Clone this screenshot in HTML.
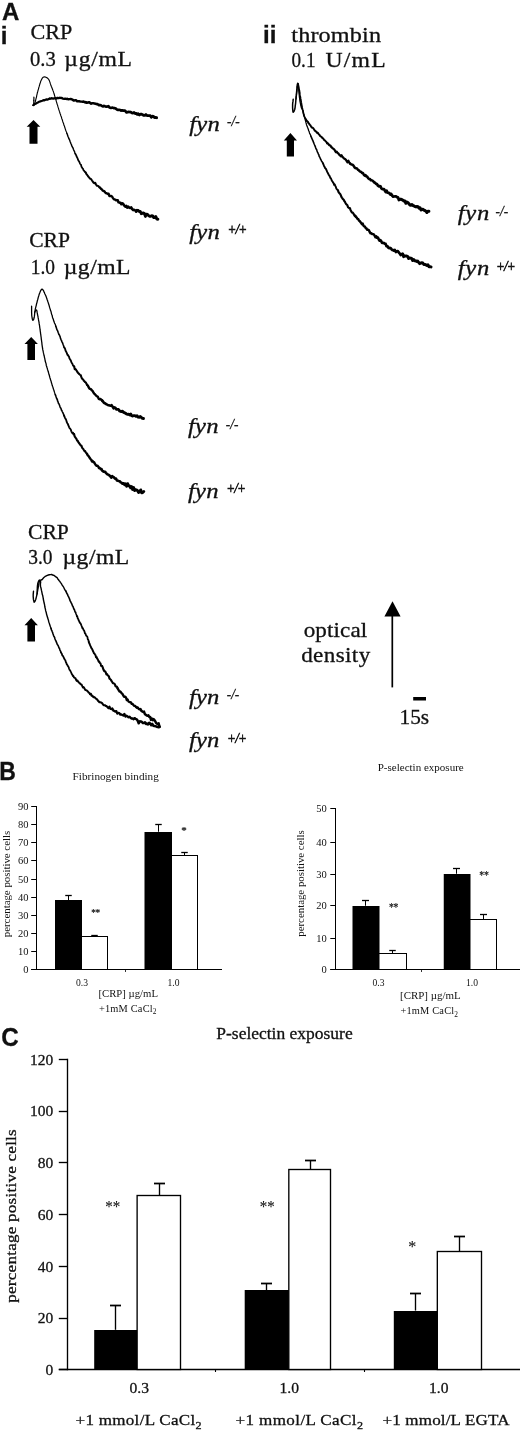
<!DOCTYPE html>
<html><head><meta charset="utf-8"><title>Figure</title>
<style>
html,body{margin:0;padding:0;background:#fff;}
svg{display:block}
text{fill:#111} .h{stroke:#111;stroke-width:0.3px}
</style></head><body>
<svg width="520" height="1431" viewBox="0 0 520 1431">
<rect width="520" height="1431" fill="#fff"/>
<text class="h" x="2" y="20" font-size="24" font-family='"Liberation Sans", sans-serif' font-weight="bold" text-anchor="start"  style="">A</text>
<text class="h" x="0.8" y="43.8" font-size="24" font-family='"Liberation Sans", sans-serif' font-weight="bold" text-anchor="start"  style="">i</text>
<g transform="translate(30.5,38.9) scale(1.005,1)"><text class="h" x="0" y="0" font-size="22" font-family='"Liberation Serif", serif' font-weight="normal" text-anchor="start" textLength="41.58" lengthAdjust="spacing"  style="">CRP</text></g>
<g transform="translate(29.9,65.6) scale(0.960,1)"><text class="h" x="0" y="0" font-size="21.5" font-family='"Liberation Serif", serif' font-weight="normal" text-anchor="start" textLength="26.88" lengthAdjust="spacing"  style="">0.3</text></g>
<g transform="translate(64.3,65.6) scale(1.100,1)"><text class="h" x="0" y="0" font-size="21.5" font-family='"Liberation Serif", serif' font-weight="normal" text-anchor="start" textLength="61.55" lengthAdjust="spacing"  style="">µg/mL</text></g>
<text class="h" x="263" y="43.3" font-size="24" font-family='"Liberation Sans", sans-serif' font-weight="bold" text-anchor="start"  style="">ii</text>
<g transform="translate(291.3,42.2) scale(1.100,1)"><text class="h" x="0" y="0" font-size="22" font-family='"Liberation Serif", serif' font-weight="normal" text-anchor="start" textLength="81.55" lengthAdjust="spacing"  style="">thrombin</text></g>
<g transform="translate(291.5,67.2) scale(0.893,1)"><text class="h" x="0" y="0" font-size="21.5" font-family='"Liberation Serif", serif' font-weight="normal" text-anchor="start" textLength="26.88" lengthAdjust="spacing"  style="">0.1</text></g>
<g transform="translate(325.5,67.2) scale(1.100,1)"><text class="h" x="0" y="0" font-size="21.5" font-family='"Liberation Serif", serif' font-weight="normal" text-anchor="start" textLength="54.64" lengthAdjust="spacing"  style="">U/mL</text></g>
<g transform="translate(29.2,247.3) scale(0.981,1)"><text class="h" x="0" y="0" font-size="22" font-family='"Liberation Serif", serif' font-weight="normal" text-anchor="start" textLength="41.58" lengthAdjust="spacing"  style="">CRP</text></g>
<g transform="translate(30.7,273.6) scale(0.904,1)"><text class="h" x="0" y="0" font-size="21.5" font-family='"Liberation Serif", serif' font-weight="normal" text-anchor="start" textLength="26.88" lengthAdjust="spacing"  style="">1.0</text></g>
<g transform="translate(63.75,273.6) scale(1.100,1)"><text class="h" x="0" y="0" font-size="21.5" font-family='"Liberation Serif", serif' font-weight="normal" text-anchor="start" textLength="60.68" lengthAdjust="spacing"  style="">µg/mL</text></g>
<g transform="translate(28,538.5) scale(0.981,1)"><text class="h" x="0" y="0" font-size="22" font-family='"Liberation Serif", serif' font-weight="normal" text-anchor="start" textLength="41.58" lengthAdjust="spacing"  style="">CRP</text></g>
<g transform="translate(28.2,564.1) scale(0.904,1)"><text class="h" x="0" y="0" font-size="21.5" font-family='"Liberation Serif", serif' font-weight="normal" text-anchor="start" textLength="26.88" lengthAdjust="spacing"  style="">3.0</text></g>
<g transform="translate(62.5,564.1) scale(1.100,1)"><text class="h" x="0" y="0" font-size="21.5" font-family='"Liberation Serif", serif' font-weight="normal" text-anchor="start" textLength="60.68" lengthAdjust="spacing"  style="">µg/mL</text></g>
<g transform="translate(303.7,637) scale(1.100,1)"><text class="h" x="0" y="0" font-size="21" font-family='"Liberation Serif", serif' font-weight="normal" text-anchor="start" textLength="57.82" lengthAdjust="spacing"  style="">optical</text></g>
<g transform="translate(301.2,662) scale(1.100,1)"><text class="h" x="0" y="0" font-size="21" font-family='"Liberation Serif", serif' font-weight="normal" text-anchor="start" textLength="62.73" lengthAdjust="spacing"  style="">density</text></g>
<g transform="translate(399.5,724.4) scale(1.015,1)"><text class="h" x="0" y="0" font-size="21" font-family='"Liberation Serif", serif' font-weight="normal" text-anchor="start" textLength="29.17" lengthAdjust="spacing"  style="">15s</text></g>
<g transform="translate(189.2,130.5) scale(1.200,1)"><text class="h" x="0" y="0" font-size="20.5" font-family='"Liberation Serif", serif' font-weight="normal" text-anchor="start" textLength="25.42" lengthAdjust="spacing"  style="font-style:italic">fyn</text></g>
<g transform="translate(227.0,126.1) scale(0.921,1)"><text class="h" x="0" y="0" font-size="14.5" font-family='"Liberation Serif", serif' font-weight="normal" text-anchor="start" textLength="13.68" lengthAdjust="spacing"  style="font-style:italic">-/-</text></g>
<g transform="translate(189.2,238.5) scale(1.200,1)"><text class="h" x="0" y="0" font-size="20.5" font-family='"Liberation Serif", serif' font-weight="normal" text-anchor="start" textLength="25.42" lengthAdjust="spacing"  style="font-style:italic">fyn</text></g>
<g transform="translate(227.39999999999998,234.1) scale(0.850,1)"><text class="h" x="0" y="0" font-size="15.5" font-family='"Liberation Serif", serif' font-weight="normal" text-anchor="start" textLength="23.29" lengthAdjust="spacing"  style="font-style:italic;stroke-width:0.55px">+/+</text></g>
<g transform="translate(457.7,220.4) scale(1.200,1)"><text class="h" x="0" y="0" font-size="20.5" font-family='"Liberation Serif", serif' font-weight="normal" text-anchor="start" textLength="26.25" lengthAdjust="spacing"  style="font-style:italic">fyn</text></g>
<g transform="translate(495.5,216.0) scale(0.921,1)"><text class="h" x="0" y="0" font-size="14.5" font-family='"Liberation Serif", serif' font-weight="normal" text-anchor="start" textLength="13.68" lengthAdjust="spacing"  style="font-style:italic">-/-</text></g>
<g transform="translate(457.7,275) scale(1.200,1)"><text class="h" x="0" y="0" font-size="20.5" font-family='"Liberation Serif", serif' font-weight="normal" text-anchor="start" textLength="26.25" lengthAdjust="spacing"  style="font-style:italic">fyn</text></g>
<g transform="translate(495.9,270.6) scale(0.850,1)"><text class="h" x="0" y="0" font-size="15.5" font-family='"Liberation Serif", serif' font-weight="normal" text-anchor="start" textLength="23.29" lengthAdjust="spacing"  style="font-style:italic;stroke-width:0.55px">+/+</text></g>
<g transform="translate(188,433) scale(1.200,1)"><text class="h" x="0" y="0" font-size="20.5" font-family='"Liberation Serif", serif' font-weight="normal" text-anchor="start" textLength="25.42" lengthAdjust="spacing"  style="font-style:italic">fyn</text></g>
<g transform="translate(225.8,428.6) scale(0.921,1)"><text class="h" x="0" y="0" font-size="14.5" font-family='"Liberation Serif", serif' font-weight="normal" text-anchor="start" textLength="13.68" lengthAdjust="spacing"  style="font-style:italic">-/-</text></g>
<g transform="translate(188,497.7) scale(1.200,1)"><text class="h" x="0" y="0" font-size="20.5" font-family='"Liberation Serif", serif' font-weight="normal" text-anchor="start" textLength="25.42" lengthAdjust="spacing"  style="font-style:italic">fyn</text></g>
<g transform="translate(226.2,493.3) scale(0.850,1)"><text class="h" x="0" y="0" font-size="15.5" font-family='"Liberation Serif", serif' font-weight="normal" text-anchor="start" textLength="23.29" lengthAdjust="spacing"  style="font-style:italic;stroke-width:0.55px">+/+</text></g>
<g transform="translate(188.9,703.8) scale(1.200,1)"><text class="h" x="0" y="0" font-size="20.5" font-family='"Liberation Serif", serif' font-weight="normal" text-anchor="start" textLength="25.42" lengthAdjust="spacing"  style="font-style:italic">fyn</text></g>
<g transform="translate(226.7,699.4) scale(0.921,1)"><text class="h" x="0" y="0" font-size="14.5" font-family='"Liberation Serif", serif' font-weight="normal" text-anchor="start" textLength="13.68" lengthAdjust="spacing"  style="font-style:italic">-/-</text></g>
<g transform="translate(188.9,747) scale(1.200,1)"><text class="h" x="0" y="0" font-size="20.5" font-family='"Liberation Serif", serif' font-weight="normal" text-anchor="start" textLength="25.42" lengthAdjust="spacing"  style="font-style:italic">fyn</text></g>
<g transform="translate(227.10000000000002,742.6) scale(0.850,1)"><text class="h" x="0" y="0" font-size="15.5" font-family='"Liberation Serif", serif' font-weight="normal" text-anchor="start" textLength="23.29" lengthAdjust="spacing"  style="font-style:italic;stroke-width:0.55px">+/+</text></g>
<polyline points="33.9,97.0 33.9,98.1 33.9,99.2 33.8,100.3" fill="none" stroke="#000" stroke-width="1.20" stroke-linejoin="round" stroke-linecap="round"/>
<polyline points="33.8,100.3 33.8,101.4 33.8,102.5 33.7,103.6 33.6,104.7 32.7,105.3" fill="none" stroke="#000" stroke-width="1.20" stroke-linejoin="round" stroke-linecap="round"/>
<polyline points="33.5,105.1 34.4,104.3 35.4,103.8 36.3,103.4 37.3,102.7 38.3,102.2 39.3,101.6 40.3,101.5 41.3,101.0 42.4,100.7 43.4,100.1 44.5,100.3 45.5,99.8 46.6,99.4 47.7,99.6 48.7,99.0 49.8,98.6" fill="none" stroke="#000" stroke-width="2.20" stroke-linejoin="round" stroke-linecap="round"/>
<polyline points="49.8,98.6 50.9,98.6 52.0,98.2 53.1,98.7 54.2,98.4 55.3,98.2 56.4,98.5 57.5,97.8 58.6,98.2 59.7,97.7 60.8,98.0 61.9,98.0 63.0,98.7 64.1,98.9 65.2,98.6 66.3,99.0 67.3,98.9" fill="none" stroke="#000" stroke-width="2.32" stroke-linejoin="round" stroke-linecap="round"/>
<polyline points="67.3,98.9 68.4,99.3 69.5,99.1 70.6,99.0 71.7,99.2 72.8,99.9 73.9,100.6 74.9,100.3 76.0,100.3 77.1,101.2 78.1,101.1 79.2,101.3 80.3,101.5 81.4,101.6 82.5,101.7 83.6,101.5 84.7,102.3 85.7,102.2" fill="none" stroke="#000" stroke-width="2.43" stroke-linejoin="round" stroke-linecap="round"/>
<polyline points="85.7,102.2 86.8,102.8 87.9,102.5 89.0,102.2 90.1,102.9 91.2,103.7 92.3,103.2 93.3,103.3 94.4,103.4 95.5,103.7 96.6,104.1 97.6,104.1 98.7,105.2 99.8,104.9 100.9,105.2 101.9,106.0 103.0,106.2" fill="none" stroke="#000" stroke-width="2.55" stroke-linejoin="round" stroke-linecap="round"/>
<polyline points="103.0,106.2 104.1,105.9 105.1,106.3 106.2,106.7 107.3,106.6 108.4,106.2 109.4,107.4 110.5,107.8 111.6,107.8 112.6,107.6 113.7,108.1 114.8,108.2 115.8,108.6 116.9,109.5 118.0,109.9 119.0,109.8 120.1,110.0 121.2,110.4" fill="none" stroke="#000" stroke-width="2.67" stroke-linejoin="round" stroke-linecap="round"/>
<polyline points="121.2,110.4 122.2,110.3 123.3,110.6 124.4,110.6 125.4,111.1 126.5,112.4 127.6,112.1 128.6,111.8 129.7,112.0 130.8,112.1 131.9,112.9 132.9,113.1 134.0,112.5 135.1,113.6 136.2,113.3 137.3,114.4 138.3,114.0" fill="none" stroke="#000" stroke-width="2.78" stroke-linejoin="round" stroke-linecap="round"/>
<polyline points="138.3,114.0 139.4,114.9 140.5,114.1 141.6,114.3 142.7,114.8 143.8,115.4 144.9,115.3 145.9,114.6 147.0,115.5 148.1,115.6 149.2,115.6 150.3,115.7 151.3,117.2 152.4,116.3 153.5,116.4 154.5,117.5 155.6,117.5 156.6,117.7" fill="none" stroke="#000" stroke-width="2.90" stroke-linejoin="round" stroke-linecap="round"/>
<polyline points="34.5,104.8 34.8,103.7 35.0,102.7 35.3,101.6 35.6,100.5 35.8,99.5 36.1,98.4 36.4,97.3 36.6,96.3 36.8,95.2 37.1,94.1 37.3,93.0 37.6,92.0 37.9,90.9 38.2,89.8 38.5,88.8 38.8,87.7 39.1,86.7 39.4,85.6 39.7,84.6 40.0,83.5 40.4,82.5 40.7,81.4 41.1,80.4 41.6,79.4 42.1,78.4 42.8,77.6 43.7,77.0 44.8,76.9 45.9,77.2 46.9,77.7 47.7,78.3 48.5,79.1 49.0,80.1 49.5,81.1 49.9,82.1 50.2,83.2 50.5,84.2 50.9,85.2 51.3,86.3 51.7,87.3 52.1,88.3 52.5,89.3 52.9,90.4 53.3,91.4 53.6,92.4 54.0,93.5 54.3,94.5 54.6,95.6 54.9,96.6 55.3,97.7 55.6,98.8 55.9,99.8 56.2,100.8 56.5,102.0 56.8,102.9 57.1,104.1 57.5,105.1 57.8,106.2 58.1,107.2 58.4,108.1 58.7,109.2 59.1,110.4 59.4,111.4 59.8,112.5 60.1,113.5 60.5,114.4 60.8,115.7 61.2,116.5 61.5,117.4 61.9,119.0 62.2,119.5 62.6,120.9 62.9,122.0 63.3,122.9 63.6,123.6 63.9,125.1 64.3,125.7 64.6,126.8 65.0,128.0 65.4,129.3 65.7,130.2 66.1,131.3 66.5,132.1 66.8,133.2" fill="none" stroke="#000" stroke-width="1.15" stroke-linejoin="round" stroke-linecap="round"/>
<polyline points="66.8,133.2 67.2,134.0 67.6,135.2 68.0,136.5 68.4,137.3 68.8,138.5 69.3,139.3 69.7,140.3 70.1,141.4 70.5,142.4 70.9,143.6 71.4,144.5 71.8,146.0 72.2,146.4 72.6,147.5 73.1,148.2 73.5,149.5 74.0,150.7 74.4,151.3 74.8,152.5 75.3,153.8" fill="none" stroke="#000" stroke-width="1.44" stroke-linejoin="round" stroke-linecap="round"/>
<polyline points="75.3,153.8 75.8,154.5 76.2,155.4 76.7,156.8 77.2,157.6 77.7,158.7 78.1,159.9 78.6,160.9 79.1,161.4 79.5,162.3 80.0,163.6 80.5,164.4 81.0,164.8 81.5,166.9 82.0,167.4 82.6,168.7 83.1,168.9 83.7,170.7 84.3,170.9 85.0,172.0 85.6,172.4" fill="none" stroke="#000" stroke-width="1.73" stroke-linejoin="round" stroke-linecap="round"/>
<polyline points="85.6,172.4 86.3,173.8 86.9,174.6 87.6,175.5 88.3,176.6 89.0,177.3 89.8,178.5 90.5,178.7 91.2,179.3 92.0,180.5 92.8,181.6 93.5,182.6 94.3,183.2 95.2,182.7 96.0,184.5 96.8,185.7 97.6,185.8 98.5,186.2 99.3,187.3 100.1,187.6" fill="none" stroke="#000" stroke-width="2.02" stroke-linejoin="round" stroke-linecap="round"/>
<polyline points="100.1,187.6 101.0,188.9 101.8,189.3 102.7,190.7 103.5,191.0 104.3,191.1 105.2,192.5 106.0,193.3 106.9,193.2 107.7,194.0 108.6,193.7 109.4,196.1 110.3,196.0 111.2,195.8 112.1,196.6 113.0,198.1 113.9,199.3 114.8,199.4 115.7,200.3 116.7,200.0 117.6,200.4" fill="none" stroke="#000" stroke-width="2.32" stroke-linejoin="round" stroke-linecap="round"/>
<polyline points="117.6,200.4 118.6,202.3 119.5,202.6 120.5,202.8 121.4,204.2 122.4,203.3 123.4,204.2 124.3,205.6 125.3,206.7 126.3,206.0 127.2,207.6 128.2,206.6 129.2,207.7 130.2,207.9 131.2,207.4 132.2,209.1 133.2,210.1 134.2,209.8 135.2,210.3 136.2,211.7 137.2,210.3" fill="none" stroke="#000" stroke-width="2.61" stroke-linejoin="round" stroke-linecap="round"/>
<polyline points="137.2,210.3 138.2,210.5 139.2,211.5 140.3,211.5 141.3,213.7 142.3,213.4 143.4,212.9 144.4,213.5 145.4,216.4 146.5,214.2 147.5,214.5 148.5,215.6 149.6,216.2 150.6,216.3 151.7,215.7 152.7,215.9 153.8,217.6 154.8,217.5 155.8,216.5 156.9,219.1 157.9,219.2" fill="none" stroke="#000" stroke-width="2.90" stroke-linejoin="round" stroke-linecap="round"/>
<polygon points="33.5,120 40.3,126.8 37.5,126.8 37.5,143.8 29.5,143.8 29.5,126.8 26.7,126.8" fill="#000"/>
<polyline points="293.2,99.2 293.1,100.3 293.0,101.4 292.8,102.4 292.7,103.4 292.6,104.7 292.6,105.6 292.6,106.9 292.6,107.8 292.7,109.1 292.8,110.2 292.9,111.4 293.2,112.2 293.9,111.5 294.3,110.6 294.7,109.5 294.9,108.5 295.1,107.5 295.2,106.4 295.3,105.4 295.5,104.1 295.6,103.3 295.7,102.2 295.8,100.9 295.9,99.6 296.0,98.7 296.1,97.6 296.2,96.2 296.3,95.4 296.4,94.3 296.5,93.1 296.6,92.2 296.7,91.1 296.8,89.9 296.9,88.9 297.0,87.6 297.2,86.5 297.3,85.6 297.4,84.5 297.7,83.3 298.2,83.6 298.4,85.1 298.6,85.8 298.8,87.2 299.0,88.6 299.1,89.3 299.3,90.2" fill="none" stroke="#000" stroke-width="1.50" stroke-linejoin="round" stroke-linecap="round"/>
<polyline points="299.3,90.2 299.5,91.3 299.6,92.8 299.8,93.7 299.9,94.9 300.1,96.0 300.3,96.9 300.5,98.0 300.6,98.9 300.8,99.6 301.0,101.0 301.2,102.4 301.4,103.4 301.6,104.6 301.8,105.6 302.0,106.7 302.2,108.0 302.4,108.7 302.7,109.9 302.9,110.6 303.2,112.3 303.4,113.2 303.7,114.3 304.0,115.7 304.4,116.6 304.8,117.3 305.3,118.5 305.8,118.9 306.4,120.3" fill="none" stroke="#000" stroke-width="1.75" stroke-linejoin="round" stroke-linecap="round"/>
<polyline points="306.4,120.3 307.0,121.1 307.7,121.5 308.4,123.2 309.0,123.5 309.7,124.8 310.4,125.3 311.1,126.6 311.9,127.5 312.6,127.7 313.3,128.3 314.1,129.5 314.8,130.6 315.6,131.1 316.3,131.8 317.1,132.9 317.8,132.7 318.6,134.1 319.4,134.7 320.1,136.0 320.9,136.5 321.7,137.1 322.5,138.2 323.2,138.5 324.0,139.8 324.8,140.3 325.6,141.2 326.4,141.9 327.2,143.2" fill="none" stroke="#000" stroke-width="2.00" stroke-linejoin="round" stroke-linecap="round"/>
<polyline points="327.2,143.2 328.0,143.6 328.8,144.6 329.6,145.3 330.4,145.6 331.2,146.9 332.0,147.6 332.8,148.3 333.5,148.8 334.3,149.5 335.1,150.8 335.9,152.1 336.7,151.7 337.5,153.0 338.3,153.3 339.1,154.6 340.0,155.2 340.8,156.2 341.6,155.3 342.4,156.9 343.2,157.5 344.1,158.6 344.9,159.0 345.8,159.7 346.6,161.0 347.5,162.3 348.4,160.8 349.2,162.6 350.1,163.6" fill="none" stroke="#000" stroke-width="2.25" stroke-linejoin="round" stroke-linecap="round"/>
<polyline points="350.1,163.6 350.9,164.1 351.8,164.6 352.7,164.8 353.5,165.7 354.4,167.2 355.3,168.0 356.1,168.3 357.0,168.5 357.8,169.6 358.7,170.2 359.6,171.2 360.4,171.7 361.3,172.0 362.2,173.1 363.0,173.1 363.9,174.8 364.7,175.7 365.6,175.1 366.5,176.6 367.3,176.6 368.2,178.3 369.1,178.9 370.0,179.0 370.8,180.3 371.7,180.2 372.6,180.8 373.4,181.5 374.3,182.4" fill="none" stroke="#000" stroke-width="2.50" stroke-linejoin="round" stroke-linecap="round"/>
<polyline points="374.3,182.4 375.2,182.9 376.1,183.9 377.0,184.1 377.8,185.5 378.7,186.3 379.6,186.1 380.5,186.3 381.3,188.2 382.2,189.1 383.1,189.0 384.0,189.0 384.8,190.6 385.7,192.0 386.6,190.6 387.5,192.7 388.4,192.8 389.3,193.1 390.3,194.5 391.2,194.0 392.1,195.5 393.1,196.7 394.1,196.5 395.0,196.4 396.0,196.3 397.0,197.1 397.9,197.3 398.9,200.0 399.9,199.3" fill="none" stroke="#000" stroke-width="2.75" stroke-linejoin="round" stroke-linecap="round"/>
<polyline points="399.9,199.3 400.9,199.3 401.9,199.6 402.9,200.2 403.9,201.1 404.9,200.9 405.9,203.3 406.9,202.1 407.9,202.6 408.9,203.7 409.9,205.0 411.0,205.3 412.0,204.5 413.0,205.5 414.0,205.9 415.0,206.6 416.0,206.9 417.0,206.5 418.0,206.7 419.0,208.2 420.0,207.7 421.0,210.0 422.0,209.5 423.0,209.2 423.9,210.1 424.9,210.5 425.9,211.2 426.9,212.5 427.9,211.2 428.9,211.3" fill="none" stroke="#000" stroke-width="3.00" stroke-linejoin="round" stroke-linecap="round"/>
<polyline points="296.0,99.0 296.1,97.9 296.2,96.8 296.4,95.8 296.5,94.6 296.6,93.6 296.7,92.4 296.9,91.4 297.0,90.2 297.1,89.0 297.2,88.1 297.3,87.0 297.4,85.7 297.5,84.7 297.6,83.7 298.0,83.8 298.2,84.7 298.3,85.9 298.5,86.8 298.6,88.3 298.7,89.2 298.8,90.3 298.9,91.4 299.0,92.5 299.1,93.6 299.2,94.6 299.3,95.8 299.4,96.8 299.6,98.1 299.7,98.9 299.8,100.1 300.0,101.3 300.2,102.4 300.4,103.4 300.6,104.4 300.8,105.5 301.1,106.5 301.4,107.8 302.0,108.7 302.5,109.7 302.9,110.6 303.2,111.6 303.4,112.8 303.7,114.0 304.0,114.9 304.2,115.9 304.5,117.1 304.8,118.0 305.1,119.2 305.3,120.0 305.6,121.1 305.9,122.4 306.2,123.4 306.5,124.7 306.8,125.4 307.2,126.5 307.5,127.3 307.9,128.2 308.3,129.3 308.7,130.7 309.1,131.4 309.5,132.9 309.9,133.9 310.4,134.6 310.8,136.0" fill="none" stroke="#000" stroke-width="1.30" stroke-linejoin="round" stroke-linecap="round"/>
<polyline points="310.8,136.0 311.2,136.8 311.6,138.0 312.0,138.7 312.5,140.0 312.9,140.6 313.3,141.9 313.7,142.7 314.1,143.8 314.6,145.0 315.0,145.9 315.4,146.9 315.8,148.1 316.2,149.1 316.6,149.6 317.1,151.1 317.5,152.1 317.9,152.8 318.4,154.1 318.8,154.7 319.2,156.4 319.7,157.0 320.1,158.0 320.6,159.3 321.1,160.0 321.6,161.2 322.1,161.7 322.6,162.8 323.1,163.5" fill="none" stroke="#000" stroke-width="1.58" stroke-linejoin="round" stroke-linecap="round"/>
<polyline points="323.1,163.5 323.6,164.8 324.1,166.2 324.6,166.9 325.1,168.1 325.7,168.5 326.2,169.5 326.7,170.6 327.2,171.9 327.7,172.8 328.2,173.7 328.7,174.8 329.3,175.5 329.8,176.5 330.3,177.9 330.9,178.3 331.4,179.5 331.9,180.9 332.5,181.4 333.0,182.5 333.6,183.1 334.1,184.9 334.7,184.4 335.2,185.7 335.8,186.7 336.3,188.6 336.8,189.1 337.4,189.8 338.0,190.4" fill="none" stroke="#000" stroke-width="1.87" stroke-linejoin="round" stroke-linecap="round"/>
<polyline points="338.0,190.4 338.5,192.0 339.1,192.8 339.6,193.5 340.2,194.1 340.8,195.2 341.3,196.6 341.9,197.6 342.5,198.5 343.1,199.3 343.7,199.6 344.3,201.2 344.9,201.7 345.5,203.0 346.1,204.1 346.8,204.6 347.4,205.3 348.0,207.1 348.7,207.7 349.3,208.2 349.9,208.1 350.6,210.2 351.3,211.4 351.9,212.5 352.6,212.5 353.3,213.4 353.9,214.4 354.6,215.8 355.3,215.8" fill="none" stroke="#000" stroke-width="2.15" stroke-linejoin="round" stroke-linecap="round"/>
<polyline points="355.3,215.8 356.0,217.1 356.7,217.6 357.5,218.9 358.2,218.9 358.9,220.6 359.7,221.0 360.4,222.0 361.2,223.1 361.9,224.2 362.7,223.6 363.5,225.7 364.2,226.3 365.0,226.7 365.8,228.3 366.6,228.5 367.3,229.8 368.1,229.6 368.9,230.2 369.7,232.0 370.5,233.3 371.3,233.2 372.2,234.1 373.0,234.1 373.8,234.4 374.6,235.7 375.5,237.3 376.3,236.3 377.1,237.7" fill="none" stroke="#000" stroke-width="2.43" stroke-linejoin="round" stroke-linecap="round"/>
<polyline points="377.1,237.7 378.0,237.7 378.8,239.5 379.6,240.6 380.5,240.2 381.3,241.3 382.1,243.0 383.0,242.9 383.8,243.0 384.7,243.6 385.6,243.9 386.4,246.1 387.3,246.0 388.2,247.6 389.1,248.1 390.0,247.9 391.0,248.5 391.9,249.8 392.9,250.0 393.8,250.6 394.8,250.0 395.8,252.0 396.8,251.4 397.8,251.1 398.8,252.5 399.8,253.6 400.7,255.1 401.7,254.1 402.7,254.0" fill="none" stroke="#000" stroke-width="2.72" stroke-linejoin="round" stroke-linecap="round"/>
<polyline points="402.7,254.0 403.7,256.6 404.7,255.9 405.7,256.1 406.7,256.0 407.7,256.5 408.7,258.5 409.7,257.9 410.7,258.1 411.7,258.6 412.7,260.4 413.7,259.5 414.7,260.7 415.7,260.9 416.7,261.4 417.7,261.1 418.7,262.5 419.8,263.6 420.8,262.9 421.8,262.8 422.8,263.0 423.8,264.4 424.8,264.4 425.9,264.9 426.9,265.4 427.9,264.8 429.0,266.7 430.0,266.7 431.0,266.9" fill="none" stroke="#000" stroke-width="3.00" stroke-linejoin="round" stroke-linecap="round"/>
<polygon points="290.4,133 297.0,140.5 294.0,140.5 294.0,156.6 286.79999999999995,156.6 286.79999999999995,140.5 283.79999999999995,140.5" fill="#000"/>
<polyline points="31.6,306.2 31.6,307.4 31.6,308.4 31.6,309.4 31.6,310.7 31.6,311.7 31.6,312.7 31.7,313.7 31.7,315.0 31.8,316.0 32.0,317.1 32.2,318.3 32.4,319.3 32.9,320.4 33.6,319.6 33.9,318.5 34.2,317.5 34.4,316.4 34.5,315.4 34.6,314.2 34.7,313.1 34.8,312.1 35.0,311.0 35.2,309.8 35.4,308.6 35.6,307.8 35.9,306.7 36.2,305.6 36.4,304.5 36.7,303.4 37.0,302.3 37.2,301.3 37.5,300.2 37.8,299.2 38.1,298.1 38.3,297.1 38.7,296.0 39.0,294.9 39.3,294.0 39.7,293.0 40.1,291.9 40.6,290.8 41.1,289.9 42.0,289.1 42.8,289.8 43.4,290.4 43.9,291.6 44.4,292.6 44.8,293.8 45.3,294.7 45.7,295.5 46.1,296.5 46.5,297.6 46.9,298.8 47.2,299.8 47.6,300.8 47.9,301.8 48.3,302.9 48.6,304.1 48.9,304.8 49.3,306.1 49.6,307.4 49.9,308.3 50.2,309.1 50.5,310.4 50.9,311.2 51.2,312.4 51.5,313.8 51.8,314.9 52.1,315.2 52.4,316.8 52.7,318.1 53.1,318.6 53.4,319.8 53.8,321.2 54.1,321.7 54.5,323.0 54.9,323.9 55.3,324.4 55.7,326.0" fill="none" stroke="#000" stroke-width="1.30" stroke-linejoin="round" stroke-linecap="round"/>
<polyline points="55.7,326.0 56.1,326.9 56.5,328.2 56.9,329.6 57.3,330.2 57.7,331.0 58.1,332.2 58.5,333.2 58.9,334.4 59.3,334.8 59.7,335.9 60.1,336.6 60.5,338.4 60.9,339.3 61.3,340.1 61.7,341.1 62.1,342.1 62.6,343.0 63.0,344.3 63.4,345.2 63.9,346.8 64.3,347.5" fill="none" stroke="#000" stroke-width="1.57" stroke-linejoin="round" stroke-linecap="round"/>
<polyline points="64.3,347.5 64.7,348.1 65.2,349.2 65.6,350.8 66.1,351.6 66.6,352.5 67.0,353.7 67.5,355.0 68.0,354.9 68.5,356.1 69.0,356.7 69.5,358.5 70.0,359.2 70.5,360.0 71.0,361.0 71.5,362.5 72.0,363.2 72.5,364.0 73.1,365.7 73.6,365.7 74.2,366.5" fill="none" stroke="#000" stroke-width="1.83" stroke-linejoin="round" stroke-linecap="round"/>
<polyline points="74.2,366.5 74.7,369.1 75.3,368.8 75.9,369.6 76.5,370.5 77.2,371.6 77.9,372.8 78.7,373.5 79.4,374.3 80.0,374.8 80.7,375.2 81.3,376.9 81.9,378.4 82.5,379.1 83.1,379.4 83.8,380.8 84.4,381.1 85.1,382.1 85.8,382.4 86.4,383.7 87.1,384.8" fill="none" stroke="#000" stroke-width="2.10" stroke-linejoin="round" stroke-linecap="round"/>
<polyline points="87.1,384.8 87.8,385.5 88.5,386.9 89.2,388.3 89.9,388.9 90.5,388.9 91.2,389.5 91.9,390.4 92.7,391.1 93.4,392.4 94.1,393.5 94.8,394.2 95.6,395.0 96.4,395.8 97.1,396.4 97.9,396.8 98.7,398.9 99.5,399.3 100.4,398.9 101.2,399.6 102.1,400.5" fill="none" stroke="#000" stroke-width="2.37" stroke-linejoin="round" stroke-linecap="round"/>
<polyline points="102.1,400.5 103.0,401.5 103.9,402.8 104.8,403.2 105.8,403.8 106.7,404.4 107.7,404.9 108.7,405.2 109.7,405.5 110.6,405.7 111.6,405.2 112.6,406.7 113.6,408.4 114.5,407.4 115.5,407.9 116.5,409.4 117.5,409.3 118.5,409.4 119.5,411.2 120.5,411.1 121.5,411.6" fill="none" stroke="#000" stroke-width="2.63" stroke-linejoin="round" stroke-linecap="round"/>
<polyline points="121.5,411.6 122.5,411.2 123.5,412.3 124.5,412.7 125.5,413.3 126.6,414.0 127.6,414.4 128.6,414.2 129.6,414.9 130.7,414.0 131.7,415.7 132.7,416.0 133.8,415.6 134.9,415.6 135.9,416.3 137.0,415.7 138.1,417.1 139.2,417.2 140.3,416.5 141.3,417.4 142.4,418.3 143.5,418.5" fill="none" stroke="#000" stroke-width="2.90" stroke-linejoin="round" stroke-linecap="round"/>
<polyline points="34.6,312.6 35.1,311.5 35.6,310.5 36.4,309.9 36.9,310.9 37.1,312.2 37.3,313.2 37.5,314.3 37.7,315.3 37.9,316.1 38.1,317.4 38.3,318.4 38.5,319.7 38.7,320.8 38.9,321.6 39.1,322.8 39.2,323.9 39.4,324.9 39.6,326.0 39.7,327.1 39.9,328.3 40.0,329.2 40.2,330.5 40.3,331.5 40.5,332.7 40.6,333.8 40.8,334.7 40.9,335.8 41.1,337.0 41.2,337.9 41.3,339.1 41.5,340.2 41.6,341.3 41.8,342.3 41.9,343.5 42.0,344.6 42.2,345.8 42.3,346.6 42.5,348.0 42.7,349.0 42.8,349.9 43.1,351.0 43.3,352.2 43.5,353.2 43.8,354.3 44.0,355.5 44.3,356.4 44.5,357.6 44.8,358.7 45.0,359.8 45.2,361.0 45.5,362.1 45.8,362.9 46.1,363.9 46.3,365.4 46.6,366.2 46.9,367.2 47.2,368.0 47.5,369.4 47.8,370.2 48.1,371.3 48.4,372.2 48.7,373.4 49.0,374.6 49.3,375.3 49.6,376.5 49.9,377.7 50.2,378.5 50.5,379.6 50.9,380.7 51.2,381.6 51.5,383.1 51.8,383.8 52.2,385.3 52.5,386.3 52.8,386.9 53.2,388.2 53.5,389.2 53.8,390.0 54.2,391.3 54.5,392.4 54.9,393.6 55.3,394.8" fill="none" stroke="#000" stroke-width="1.30" stroke-linejoin="round" stroke-linecap="round"/>
<polyline points="55.3,394.8 55.6,395.2 56.0,396.5 56.4,397.7 56.8,398.9 57.2,399.0 57.6,401.0 58.0,401.6 58.4,403.2 58.8,403.6 59.2,404.5 59.7,405.8 60.1,407.1 60.5,407.8 60.9,408.1 61.4,410.0 61.8,410.3 62.2,411.5 62.7,412.5 63.1,413.2 63.6,414.4 64.0,415.5" fill="none" stroke="#000" stroke-width="1.57" stroke-linejoin="round" stroke-linecap="round"/>
<polyline points="64.0,415.5 64.5,416.6 65.0,417.8 65.4,418.7 65.9,419.3 66.4,420.8 66.8,422.2 67.3,423.2 67.8,423.9 68.2,425.0 68.7,426.1 69.2,427.3 69.7,428.4 70.2,428.6 70.8,429.6 71.3,431.3 71.8,432.3 72.4,433.2 73.0,432.6 73.5,434.4 74.1,434.0" fill="none" stroke="#000" stroke-width="1.83" stroke-linejoin="round" stroke-linecap="round"/>
<polyline points="74.1,434.0 74.7,436.6 75.3,437.3 75.9,438.2 76.5,439.0 77.1,440.6 77.7,440.8 78.4,442.3 79.0,443.0 79.6,443.8 80.2,444.7 80.9,445.5 81.5,445.8 82.1,447.6 82.7,448.5 83.3,449.0 84.0,450.3 84.6,451.3 85.2,451.1 85.9,452.6 86.5,453.3 87.1,454.0" fill="none" stroke="#000" stroke-width="2.10" stroke-linejoin="round" stroke-linecap="round"/>
<polyline points="87.1,454.0 87.8,455.5 88.4,455.8 89.1,456.9 89.8,458.1 90.5,459.0 91.2,459.8 92.0,461.6 92.7,461.0 93.4,462.2 94.2,462.2 95.0,463.9 95.8,465.1 96.6,465.8 97.4,465.6 98.2,466.5 99.0,468.1 99.9,468.0 100.7,469.3 101.6,468.9 102.4,471.0 103.3,471.4" fill="none" stroke="#000" stroke-width="2.37" stroke-linejoin="round" stroke-linecap="round"/>
<polyline points="103.3,471.4 104.2,471.8 105.0,471.7 105.9,472.8 106.7,473.7 107.6,474.4 108.5,474.8 109.4,475.4 110.3,476.3 111.2,477.6 112.2,476.1 113.1,477.0 114.1,477.5 115.0,478.6 116.0,478.5 116.9,480.5 117.9,480.7 118.8,481.0 119.8,481.3 120.7,482.4 121.7,482.9 122.7,483.5" fill="none" stroke="#000" stroke-width="2.63" stroke-linejoin="round" stroke-linecap="round"/>
<polyline points="122.7,483.5 123.7,483.4 124.6,484.8 125.6,483.9 126.6,486.2 127.6,483.7 128.6,485.9 129.6,485.9 130.6,487.8 131.6,486.6 132.6,489.4 133.6,487.5 134.6,490.5 135.6,489.8 136.6,489.9 137.6,490.7 138.6,492.4 139.7,491.8 140.7,489.9 141.7,492.8 142.7,492.5 143.8,491.5" fill="none" stroke="#000" stroke-width="2.90" stroke-linejoin="round" stroke-linecap="round"/>
<polygon points="31.2,336.9 37.9,344 35.0,344 35.0,360 27.4,360 27.4,344 24.5,344" fill="#000"/>
<polyline points="33.5,591.3 33.4,592.2 33.3,593.4 33.2,594.5 33.2,595.5 33.2,596.8 33.3,597.7 33.4,598.9 33.5,599.9 33.8,601.0 34.2,602.2 35.0,601.3 35.4,600.2 35.8,599.2 36.1,598.1 36.3,597.1 36.6,596.1 36.8,595.0 37.0,593.9 37.2,592.8 37.4,591.8 37.6,590.8 37.8,589.5 38.0,588.5 38.2,587.4 38.4,586.5 38.6,585.4 38.8,584.1 39.0,583.1 39.2,581.9 39.5,580.9 40.2,580.1 41.2,580.0 42.2,579.5 43.0,578.5 43.7,577.6 44.5,577.0 45.3,576.3 46.3,575.8 47.3,575.3 48.3,575.0 49.4,574.7 50.5,574.6 51.6,574.5 52.6,575.0 53.6,575.2 54.6,575.8 55.5,576.7 56.3,577.2 57.1,577.7 57.8,579.0 58.5,579.8 59.2,580.7 59.8,581.4 60.4,582.4 61.0,583.2 61.6,584.0 62.2,585.3 62.8,585.9 63.4,586.8 63.9,587.8 64.5,589.2 65.0,590.0 65.6,590.7" fill="none" stroke="#000" stroke-width="1.40" stroke-linejoin="round" stroke-linecap="round"/>
<polyline points="65.6,590.7 66.1,591.7 66.6,592.8 67.1,593.9 67.5,594.3 68.0,595.9 68.5,596.6 68.9,597.5 69.4,598.6 69.8,599.9 70.3,601.1 70.7,601.7 71.2,602.9 71.6,603.5 72.1,604.8 72.5,605.9 72.9,606.3 73.4,607.6 73.8,609.0 74.3,609.3 74.7,610.7 75.1,612.0 75.6,612.3 76.0,613.7 76.4,614.8 76.9,616.1" fill="none" stroke="#000" stroke-width="1.58" stroke-linejoin="round" stroke-linecap="round"/>
<polyline points="76.9,616.1 77.3,616.5 77.7,618.2 78.2,618.9 78.6,620.2 79.1,621.2 79.5,622.0 80.0,623.0 80.5,623.3 81.0,624.4 81.4,625.5 81.9,626.7 82.4,628.1 82.9,628.2 83.4,629.7 83.9,630.3 84.4,631.2 84.9,633.2 85.5,633.7 86.0,635.2 86.5,636.0 87.0,636.2 87.4,636.9 87.8,639.4 88.1,639.5 88.5,640.3 88.8,642.0" fill="none" stroke="#000" stroke-width="1.77" stroke-linejoin="round" stroke-linecap="round"/>
<polyline points="88.8,642.0 89.1,642.9 89.5,643.6 89.9,644.7 90.4,645.9 90.9,646.9 91.4,648.1 91.9,648.7 92.4,649.6 92.9,651.0 93.4,651.9 93.9,653.2 94.4,653.6 95.0,654.6 95.5,655.1 96.0,657.2 96.6,656.9 97.1,658.6 97.7,659.0 98.2,660.5 98.8,661.7 99.3,661.5 99.9,663.1 100.5,663.3 101.0,665.8 101.6,665.8" fill="none" stroke="#000" stroke-width="1.95" stroke-linejoin="round" stroke-linecap="round"/>
<polyline points="101.6,665.8 102.2,666.2 102.8,667.6 103.4,669.5 103.9,670.5 104.5,671.3 105.1,671.2 105.8,672.5 106.4,674.3 107.0,674.0 107.6,675.1 108.3,675.7 108.9,676.4 109.5,678.6 110.2,679.1 110.9,679.9 111.5,680.9 112.2,682.0 112.9,683.1 113.6,683.2 114.3,683.8 114.9,684.3 115.6,686.4 116.3,686.4 116.9,686.7 117.6,688.3" fill="none" stroke="#000" stroke-width="2.13" stroke-linejoin="round" stroke-linecap="round"/>
<polyline points="117.6,688.3 118.2,689.3 118.9,690.6 119.6,691.6 120.3,691.5 121.0,692.3 121.7,693.4 122.4,693.7 123.1,695.2 123.8,696.4 124.6,696.9 125.3,696.7 126.1,697.8 126.8,700.1 127.6,699.5 128.4,701.3 129.2,702.0 130.0,702.1 130.9,702.4 131.7,703.9 132.6,703.9 133.4,705.0 134.3,705.9 135.2,706.0 136.0,707.0 136.9,707.6" fill="none" stroke="#000" stroke-width="2.32" stroke-linejoin="round" stroke-linecap="round"/>
<polyline points="136.9,707.6 137.8,707.6 138.7,708.9 139.6,709.3 140.5,709.1 141.4,710.8 142.3,711.5 143.1,711.9 144.0,711.6 144.9,714.2 145.8,714.8 146.7,715.4 147.5,715.8 148.4,715.4 149.3,717.0 150.2,717.0 151.0,719.9 151.9,718.6 152.8,720.1 153.6,719.2 154.5,720.2 155.3,721.4 156.1,723.0 157.0,723.6 157.8,724.2 158.6,723.3 159.4,726.3" fill="none" stroke="#000" stroke-width="2.50" stroke-linejoin="round" stroke-linecap="round"/>
<polyline points="37.2,593.9 37.2,593.1 37.2,592.0 37.2,590.8 37.2,589.7 37.3,588.4 37.3,587.7 37.4,586.3 37.5,585.3 37.7,584.0 37.9,583.0 38.3,581.9 38.7,581.0 39.3,580.1 40.2,580.6 40.6,581.7 40.6,582.7 40.4,583.8 40.4,584.9 40.5,586.1 40.7,587.0 41.0,588.2 41.2,589.0 41.4,590.2 41.7,591.4 41.9,592.4 42.2,593.8 42.4,594.8 42.7,595.5 42.9,596.6 43.1,597.7 43.3,599.0 43.5,600.0 43.7,601.0 43.9,601.9 44.1,603.1 44.4,603.9 44.6,605.1 44.8,606.5 45.0,607.6 45.2,608.4 45.5,609.6 45.7,610.9 46.0,611.8 46.3,612.8 46.5,614.0 46.8,615.0 47.1,616.0 47.4,617.0 47.7,618.1 48.1,619.2 48.4,620.1 48.7,621.5 49.0,622.5 49.4,623.6 49.7,624.8 50.1,625.8 50.4,626.8 50.8,627.6 51.1,628.6" fill="none" stroke="#000" stroke-width="1.40" stroke-linejoin="round" stroke-linecap="round"/>
<polyline points="51.1,628.6 51.5,630.1 51.8,630.5 52.2,631.6 52.6,632.5 53.0,633.8 53.4,634.9 53.8,636.1 54.2,636.8 54.6,637.4 55.0,639.0 55.5,640.1 55.9,640.9 56.3,641.9 56.8,643.1 57.2,644.3 57.7,644.9 58.1,645.5 58.6,646.8 59.0,647.9 59.5,648.4 59.9,650.2 60.4,650.7 60.8,652.1" fill="none" stroke="#000" stroke-width="1.58" stroke-linejoin="round" stroke-linecap="round"/>
<polyline points="60.8,652.1 61.3,653.0 61.8,653.8 62.3,655.4 62.8,655.7 63.3,656.6 63.9,657.9 64.4,659.1 64.9,659.8 65.4,660.4 65.8,662.0 66.3,662.9 66.8,664.4 67.2,664.7 67.7,665.8 68.2,666.5 68.7,667.2 69.1,668.7 69.6,670.0 70.1,670.3 70.6,671.4 71.1,672.2 71.7,674.1 72.2,674.3 72.8,675.7" fill="none" stroke="#000" stroke-width="1.77" stroke-linejoin="round" stroke-linecap="round"/>
<polyline points="72.8,675.7 73.4,676.1 74.0,677.3 74.7,677.9 75.4,678.1 76.1,679.9 76.8,680.9 77.6,680.6 78.4,682.1 79.2,682.8 80.0,683.3 80.7,684.4 81.5,684.5 82.3,686.2 83.0,687.5 83.8,687.2 84.5,688.5 85.3,690.0 86.1,690.1 86.9,690.6 87.7,691.2 88.5,692.4 89.3,693.0 90.1,694.1" fill="none" stroke="#000" stroke-width="1.95" stroke-linejoin="round" stroke-linecap="round"/>
<polyline points="90.1,694.1 90.9,693.8 91.7,695.8 92.5,695.9 93.4,697.1 94.2,697.1 95.0,697.6 95.9,698.6 96.8,699.1 97.6,700.1 98.5,701.3 99.4,702.1 100.3,702.3 101.2,702.6 102.1,703.2 103.0,704.4 103.9,705.3 104.8,705.2 105.7,705.9 106.6,706.1 107.6,707.3 108.5,708.2 109.5,706.6 110.4,709.0 111.4,709.0" fill="none" stroke="#000" stroke-width="2.13" stroke-linejoin="round" stroke-linecap="round"/>
<polyline points="111.4,709.0 112.3,708.5 113.3,710.6 114.3,710.8 115.3,711.6 116.3,711.1 117.3,713.6 118.3,712.9 119.3,713.1 120.3,714.6 121.3,714.5 122.3,715.0 123.4,715.6 124.4,713.9 125.5,716.6 126.5,715.7 127.5,716.4 128.5,717.3 129.6,716.7 130.5,717.8 131.5,718.5 132.6,718.5 133.6,719.2 134.6,718.3" fill="none" stroke="#000" stroke-width="2.32" stroke-linejoin="round" stroke-linecap="round"/>
<polyline points="134.6,718.3 135.6,718.9 136.7,719.3 137.7,720.7 138.7,723.3 139.8,721.3 140.8,721.4 141.8,721.9 142.9,723.0 143.9,723.1 145.0,722.2 146.0,724.0 147.1,723.6 148.1,724.5 149.2,722.8 150.2,723.5 151.3,725.3 152.3,723.9 153.4,725.8 154.4,726.1 155.5,726.2 156.6,726.7 157.6,726.9 158.7,727.3 159.8,726.9" fill="none" stroke="#000" stroke-width="2.50" stroke-linejoin="round" stroke-linecap="round"/>
<polygon points="31.2,618 37.9,625.2 35.0,625.2 35.0,641.5 27.4,641.5 27.4,625.2 24.5,625.2" fill="#000"/>
<line x1="392.3" y1="612" x2="392.3" y2="687.4" stroke="#000" stroke-width="1.7"/>
<polygon points="392.5,601.2 400.6,616.6 384.4,616.6" fill="#000"/>
<rect x="413.2" y="697" width="12.8" height="3.5" fill="#000"/>
<g transform="translate(-0.8,780) scale(0.920,1)"><text class="h" x="0" y="0" font-size="25" font-family='"Liberation Sans", sans-serif' font-weight="bold" text-anchor="start" textLength="18.04" lengthAdjust="spacing"  style="">B</text></g>
<g transform="translate(72.6,780.4) scale(1.057,1)"><text x="0" y="0" font-size="10.6" font-family='"Liberation Serif", serif' font-weight="normal" text-anchor="start" textLength="81.56" lengthAdjust="spacing"  style="">Fibrinogen binding</text></g>
<g transform="translate(377.7,770.6) scale(1.040,1)"><text x="0" y="0" font-size="10.6" font-family='"Liberation Serif", serif' font-weight="normal" text-anchor="start" textLength="82.72" lengthAdjust="spacing"  style="">P-selectin exposure</text></g>
<line x1="36.5" y1="806.0" x2="36.5" y2="970.0" stroke="#000" stroke-width="1.0"/>
<line x1="31.2" y1="969.5" x2="222" y2="969.5" stroke="#000" stroke-width="1.0"/>
<line x1="31.2" y1="969.5" x2="36.5" y2="969.5" stroke="#000" stroke-width="1.0"/>
<text x="28.5" y="973.0" font-size="10.5" font-family='"Liberation Serif", serif' font-weight="normal" text-anchor="end"  style="">0</text>
<line x1="31.2" y1="951.5" x2="36.5" y2="951.5" stroke="#000" stroke-width="1.0"/>
<text x="28.5" y="954.9" font-size="10.5" font-family='"Liberation Serif", serif' font-weight="normal" text-anchor="end"  style="">10</text>
<line x1="31.2" y1="933.5" x2="36.5" y2="933.5" stroke="#000" stroke-width="1.0"/>
<text x="28.5" y="936.8" font-size="10.5" font-family='"Liberation Serif", serif' font-weight="normal" text-anchor="end"  style="">20</text>
<line x1="31.2" y1="915.5" x2="36.5" y2="915.5" stroke="#000" stroke-width="1.0"/>
<text x="28.5" y="918.7" font-size="10.5" font-family='"Liberation Serif", serif' font-weight="normal" text-anchor="end"  style="">30</text>
<line x1="31.2" y1="897.5" x2="36.5" y2="897.5" stroke="#000" stroke-width="1.0"/>
<text x="28.5" y="900.6" font-size="10.5" font-family='"Liberation Serif", serif' font-weight="normal" text-anchor="end"  style="">40</text>
<line x1="31.2" y1="879.5" x2="36.5" y2="879.5" stroke="#000" stroke-width="1.0"/>
<text x="28.5" y="882.5" font-size="10.5" font-family='"Liberation Serif", serif' font-weight="normal" text-anchor="end"  style="">50</text>
<line x1="31.2" y1="860.5" x2="36.5" y2="860.5" stroke="#000" stroke-width="1.0"/>
<text x="28.5" y="864.4" font-size="10.5" font-family='"Liberation Serif", serif' font-weight="normal" text-anchor="end"  style="">60</text>
<line x1="31.2" y1="842.5" x2="36.5" y2="842.5" stroke="#000" stroke-width="1.0"/>
<text x="28.5" y="846.3" font-size="10.5" font-family='"Liberation Serif", serif' font-weight="normal" text-anchor="end"  style="">70</text>
<line x1="31.2" y1="824.5" x2="36.5" y2="824.5" stroke="#000" stroke-width="1.0"/>
<text x="28.5" y="828.2" font-size="10.5" font-family='"Liberation Serif", serif' font-weight="normal" text-anchor="end"  style="">80</text>
<line x1="31.2" y1="806.5" x2="36.5" y2="806.5" stroke="#000" stroke-width="1.0"/>
<text x="28.5" y="810.2" font-size="10.5" font-family='"Liberation Serif", serif' font-weight="normal" text-anchor="end"  style="">90</text>
<line x1="125.5" y1="969.5" x2="125.5" y2="972.0" stroke="#000" stroke-width="0.80"/>
<rect x="55" y="900" width="27.00" height="69.5" fill="#000"/>
<line x1="68.5" y1="900.5" x2="68.5" y2="895.5" stroke="#000" stroke-width="1.0"/>
<line x1="65.25" y1="895.5" x2="71.75" y2="895.5" stroke="#000" stroke-width="1.30"/>
<rect x="81.50" y="936.50" width="26.00" height="33.00" fill="#fff" stroke="#000" stroke-width="1.0"/>
<line x1="94.5" y1="936.25" x2="94.5" y2="935.5" stroke="#000" stroke-width="1.0"/>
<line x1="91.25" y1="935.5" x2="97.75" y2="935.5" stroke="#000" stroke-width="1.30"/>
<rect x="144.5" y="832" width="27.50" height="137.5" fill="#000"/>
<line x1="158.5" y1="831.75" x2="158.5" y2="824.5" stroke="#000" stroke-width="1.0"/>
<line x1="155.25" y1="824.5" x2="161.75" y2="824.5" stroke="#000" stroke-width="1.30"/>
<rect x="171.50" y="855.50" width="26.00" height="114.00" fill="#fff" stroke="#000" stroke-width="1.0"/>
<line x1="184.5" y1="855.5" x2="184.5" y2="852.5" stroke="#000" stroke-width="1.0"/>
<line x1="181.25" y1="852.5" x2="187.75" y2="852.5" stroke="#000" stroke-width="1.30"/>
<g transform="translate(91.2,916) scale(0.850,1)"><text x="0" y="0" font-size="11" font-family='"Liberation Serif", serif' font-weight="normal" text-anchor="start" textLength="10.59" lengthAdjust="spacing"  style="stroke:#111;stroke-width:0.2px">**</text></g>
<text x="181.3" y="834" font-size="11" font-family='"Liberation Serif", serif' font-weight="normal" text-anchor="start"  style="stroke:#111;stroke-width:0.2px">*</text>
<g transform="translate(76,985.5) scale(0.914,1)"><text x="0" y="0" font-size="10.5" font-family='"Liberation Serif", serif' font-weight="normal" text-anchor="start" textLength="13.12" lengthAdjust="spacing"  style="">0.3</text></g>
<g transform="translate(167.5,985.5) scale(0.914,1)"><text x="0" y="0" font-size="10.5" font-family='"Liberation Serif", serif' font-weight="normal" text-anchor="start" textLength="13.12" lengthAdjust="spacing"  style="">1.0</text></g>
<g transform="translate(98.5,996.5) scale(1.021,1)"><text x="0" y="0" font-size="10.5" font-family='"Liberation Serif", serif' font-weight="normal" text-anchor="start" textLength="58.26" lengthAdjust="spacing"  style="">[CRP] µg/mL</text></g>
<g transform="translate(99,1011.5) scale(0.989,1)"><text x="0" y="0" font-size="10.5" font-family='"Liberation Serif", serif' font-weight="normal" text-anchor="start" textLength="58.14" lengthAdjust="spacing"  style="">+1mM CaCl<tspan font-size="7.5" dy="2.5">2</tspan></text></g>
<g transform="translate(9.6,884) rotate(-90) scale(1.052,1)"><text x="0" y="0" font-size="10.3" font-family='"Liberation Serif", serif' text-anchor="middle" textLength="101.24" lengthAdjust="spacing">percentage positive cells</text></g>
<line x1="335.5" y1="808.0" x2="335.5" y2="970.0" stroke="#000" stroke-width="1.0"/>
<line x1="330.3" y1="969.5" x2="520" y2="969.5" stroke="#000" stroke-width="1.0"/>
<line x1="330.3" y1="969.5" x2="335.5" y2="969.5" stroke="#000" stroke-width="1.0"/>
<text x="326.8" y="972.8" font-size="10.5" font-family='"Liberation Serif", serif' font-weight="normal" text-anchor="end"  style="">0</text>
<line x1="330.3" y1="938.5" x2="335.5" y2="938.5" stroke="#000" stroke-width="1.0"/>
<text x="326.8" y="941.8" font-size="10.5" font-family='"Liberation Serif", serif' font-weight="normal" text-anchor="end"  style="">10</text>
<line x1="330.3" y1="905.5" x2="335.5" y2="905.5" stroke="#000" stroke-width="1.0"/>
<text x="326.8" y="908.9" font-size="10.5" font-family='"Liberation Serif", serif' font-weight="normal" text-anchor="end"  style="">20</text>
<line x1="330.3" y1="874.5" x2="335.5" y2="874.5" stroke="#000" stroke-width="1.0"/>
<text x="326.8" y="877.7" font-size="10.5" font-family='"Liberation Serif", serif' font-weight="normal" text-anchor="end"  style="">30</text>
<line x1="330.3" y1="842.5" x2="335.5" y2="842.5" stroke="#000" stroke-width="1.0"/>
<text x="326.8" y="845.6" font-size="10.5" font-family='"Liberation Serif", serif' font-weight="normal" text-anchor="end"  style="">40</text>
<line x1="330.3" y1="808.5" x2="335.5" y2="808.5" stroke="#000" stroke-width="1.0"/>
<text x="326.8" y="812.3" font-size="10.5" font-family='"Liberation Serif", serif' font-weight="normal" text-anchor="end"  style="">50</text>
<line x1="421.5" y1="969.5" x2="421.5" y2="972.0" stroke="#000" stroke-width="0.80"/>
<rect x="352.5" y="906" width="27.00" height="63.5" fill="#000"/>
<line x1="365.5" y1="905.75" x2="365.5" y2="900.5" stroke="#000" stroke-width="1.0"/>
<line x1="362.0" y1="900.5" x2="369.0" y2="900.5" stroke="#000" stroke-width="1.30"/>
<rect x="379.00" y="953.50" width="27.50" height="16.00" fill="#fff" stroke="#000" stroke-width="1.0"/>
<line x1="392.5" y1="953.75" x2="392.5" y2="950.5" stroke="#000" stroke-width="1.0"/>
<line x1="389.25" y1="950.5" x2="395.75" y2="950.5" stroke="#000" stroke-width="1.30"/>
<rect x="443.75" y="874" width="26.75" height="95.5" fill="#000"/>
<line x1="456.5" y1="873.75" x2="456.5" y2="868.5" stroke="#000" stroke-width="1.0"/>
<line x1="453.0" y1="868.5" x2="460.0" y2="868.5" stroke="#000" stroke-width="1.30"/>
<rect x="470.00" y="919.50" width="26.50" height="50.00" fill="#fff" stroke="#000" stroke-width="1.0"/>
<line x1="483.5" y1="919.25" x2="483.5" y2="914.5" stroke="#000" stroke-width="1.0"/>
<line x1="480.0" y1="914.5" x2="487.0" y2="914.5" stroke="#000" stroke-width="1.30"/>
<g transform="translate(389,910.5) scale(0.850,1)"><text x="0" y="0" font-size="11.5" font-family='"Liberation Serif", serif' font-weight="normal" text-anchor="start" textLength="11.18" lengthAdjust="spacing"  style="stroke:#111;stroke-width:0.2px">**</text></g>
<g transform="translate(479.3,879) scale(0.850,1)"><text x="0" y="0" font-size="11.5" font-family='"Liberation Serif", serif' font-weight="normal" text-anchor="start" textLength="11.18" lengthAdjust="spacing"  style="stroke:#111;stroke-width:0.2px">**</text></g>
<g transform="translate(372.5,985.5) scale(0.914,1)"><text x="0" y="0" font-size="10.5" font-family='"Liberation Serif", serif' font-weight="normal" text-anchor="start" textLength="13.12" lengthAdjust="spacing"  style="">0.3</text></g>
<g transform="translate(466,985.5) scale(0.914,1)"><text x="0" y="0" font-size="10.5" font-family='"Liberation Serif", serif' font-weight="normal" text-anchor="start" textLength="13.12" lengthAdjust="spacing"  style="">1.0</text></g>
<g transform="translate(400,998.5) scale(1.044,1)"><text x="0" y="0" font-size="10.5" font-family='"Liberation Serif", serif' font-weight="normal" text-anchor="start" textLength="58.26" lengthAdjust="spacing"  style="">[CRP] µg/mL</text></g>
<g transform="translate(400.5,1014) scale(0.989,1)"><text x="0" y="0" font-size="10.5" font-family='"Liberation Serif", serif' font-weight="normal" text-anchor="start" textLength="58.14" lengthAdjust="spacing"  style="">+1mM CaCl<tspan font-size="7.5" dy="2.5">2</tspan></text></g>
<g transform="translate(303.7,883.5) rotate(-90) scale(1.052,1)"><text x="0" y="0" font-size="10.3" font-family='"Liberation Serif", serif' text-anchor="middle" textLength="101.24" lengthAdjust="spacing">percentage positive cells</text></g>
<g transform="translate(1.2,1046.1) scale(0.950,1)"><text class="h" x="0" y="0" font-size="25.5" font-family='"Liberation Sans", sans-serif' font-weight="bold" text-anchor="start" textLength="18.42" lengthAdjust="spacing"  style="">C</text></g>
<g transform="translate(216.3,1039.4) scale(1.059,1)"><text class="h" x="0" y="0" font-size="16.5" font-family='"Liberation Serif", serif' font-weight="normal" text-anchor="start" textLength="128.76" lengthAdjust="spacing"  style="">P-selectin exposure</text></g>
<line x1="67.5" y1="1058.825" x2="67.5" y2="1370.175" stroke="#000" stroke-width="1.35"/>
<line x1="58.8" y1="1369.5" x2="520" y2="1369.5" stroke="#000" stroke-width="1.35"/>
<line x1="58.8" y1="1369.5" x2="67.5" y2="1369.5" stroke="#000" stroke-width="1.35"/>
<text class="h" x="53.3" y="1374.9" font-size="15.5" font-family='"Liberation Serif", serif' font-weight="normal" text-anchor="end"  style="">0</text>
<line x1="58.8" y1="1318.5" x2="67.5" y2="1318.5" stroke="#000" stroke-width="1.35"/>
<text class="h" x="53.3" y="1323.2" font-size="15.5" font-family='"Liberation Serif", serif' font-weight="normal" text-anchor="end"  style="">20</text>
<line x1="58.8" y1="1266.5" x2="67.5" y2="1266.5" stroke="#000" stroke-width="1.35"/>
<text class="h" x="53.3" y="1271.5" font-size="15.5" font-family='"Liberation Serif", serif' font-weight="normal" text-anchor="end"  style="">40</text>
<line x1="58.8" y1="1214.5" x2="67.5" y2="1214.5" stroke="#000" stroke-width="1.35"/>
<text class="h" x="53.3" y="1219.8" font-size="15.5" font-family='"Liberation Serif", serif' font-weight="normal" text-anchor="end"  style="">60</text>
<line x1="58.8" y1="1162.5" x2="67.5" y2="1162.5" stroke="#000" stroke-width="1.35"/>
<text class="h" x="53.3" y="1168.1" font-size="15.5" font-family='"Liberation Serif", serif' font-weight="normal" text-anchor="end"  style="">80</text>
<line x1="58.8" y1="1111.5" x2="67.5" y2="1111.5" stroke="#000" stroke-width="1.35"/>
<text class="h" x="53.3" y="1116.4" font-size="15.5" font-family='"Liberation Serif", serif' font-weight="normal" text-anchor="end"  style="">100</text>
<line x1="58.8" y1="1059.5" x2="67.5" y2="1059.5" stroke="#000" stroke-width="1.35"/>
<text class="h" x="53.3" y="1064.7" font-size="15.5" font-family='"Liberation Serif", serif' font-weight="normal" text-anchor="end"  style="">120</text>
<line x1="215.5" y1="1369.5" x2="215.5" y2="1372.0" stroke="#000" stroke-width="1.08"/>
<line x1="364.5" y1="1369.5" x2="364.5" y2="1372.0" stroke="#000" stroke-width="1.08"/>
<rect x="94.2" y="1330" width="43.60" height="39.5" fill="#000"/>
<line x1="115.5" y1="1329.8" x2="115.5" y2="1305.5" stroke="#000" stroke-width="1.35"/>
<line x1="110.0" y1="1305.5" x2="121.0" y2="1305.5" stroke="#000" stroke-width="1.76"/>
<rect x="137.12" y="1195.50" width="43.38" height="174.00" fill="#fff" stroke="#000" stroke-width="1.35"/>
<line x1="159.5" y1="1195.5" x2="159.5" y2="1183.5" stroke="#000" stroke-width="1.35"/>
<line x1="154.0" y1="1183.5" x2="165.0" y2="1183.5" stroke="#000" stroke-width="1.76"/>
<rect x="244.7" y="1290" width="44.80" height="79.5" fill="#000"/>
<line x1="266.5" y1="1290.3" x2="266.5" y2="1283.5" stroke="#000" stroke-width="1.35"/>
<line x1="261.0" y1="1283.5" x2="272.0" y2="1283.5" stroke="#000" stroke-width="1.76"/>
<rect x="288.82" y="1169.50" width="41.68" height="200.00" fill="#fff" stroke="#000" stroke-width="1.35"/>
<line x1="310.5" y1="1169.4" x2="310.5" y2="1160.5" stroke="#000" stroke-width="1.35"/>
<line x1="305.0" y1="1160.5" x2="316.0" y2="1160.5" stroke="#000" stroke-width="1.76"/>
<rect x="393.8" y="1311" width="44.20" height="58.5" fill="#000"/>
<line x1="415.5" y1="1310.6" x2="415.5" y2="1293.5" stroke="#000" stroke-width="1.35"/>
<line x1="410.0" y1="1293.5" x2="421.0" y2="1293.5" stroke="#000" stroke-width="1.76"/>
<rect x="437.32" y="1251.50" width="44.18" height="118.00" fill="#fff" stroke="#000" stroke-width="1.35"/>
<line x1="459.5" y1="1251.3" x2="459.5" y2="1236.5" stroke="#000" stroke-width="1.35"/>
<line x1="454.0" y1="1236.5" x2="465.0" y2="1236.5" stroke="#000" stroke-width="1.76"/>
<g transform="translate(105.3,1211.7) scale(0.938,1)"><text class="h" x="0" y="0" font-size="16" font-family='"Liberation Serif", serif' font-weight="normal" text-anchor="start" textLength="16.00" lengthAdjust="spacing"  style="stroke-width:0.1px">**</text></g>
<g transform="translate(259.7,1211.7) scale(0.938,1)"><text class="h" x="0" y="0" font-size="16" font-family='"Liberation Serif", serif' font-weight="normal" text-anchor="start" textLength="16.00" lengthAdjust="spacing"  style="stroke-width:0.1px">**</text></g>
<text class="h" x="408.3" y="1252" font-size="16" font-family='"Liberation Serif", serif' font-weight="normal" text-anchor="start"  style="stroke-width:0.1px">*</text>
<g transform="translate(129.5,1392.5) scale(1.040,1)"><text class="h" x="0" y="0" font-size="15" font-family='"Liberation Serif", serif' font-weight="normal" text-anchor="start" textLength="18.75" lengthAdjust="spacing"  style="">0.3</text></g>
<g transform="translate(279.5,1392.5) scale(1.040,1)"><text class="h" x="0" y="0" font-size="15" font-family='"Liberation Serif", serif' font-weight="normal" text-anchor="start" textLength="18.75" lengthAdjust="spacing"  style="">1.0</text></g>
<g transform="translate(429,1392.5) scale(1.040,1)"><text class="h" x="0" y="0" font-size="15" font-family='"Liberation Serif", serif' font-weight="normal" text-anchor="start" textLength="18.75" lengthAdjust="spacing"  style="">1.0</text></g>
<g transform="translate(75.5,1425) scale(1.100,1)"><text class="h" x="0" y="0" font-size="15.5" font-family='"Liberation Serif", serif' font-weight="normal" text-anchor="start" textLength="114.55" lengthAdjust="spacing"  style="">+1 mmol/L CaCl<tspan font-size="11" dy="4">2</tspan></text></g>
<g transform="translate(235.5,1425) scale(1.100,1)"><text class="h" x="0" y="0" font-size="15.5" font-family='"Liberation Serif", serif' font-weight="normal" text-anchor="start" textLength="115.91" lengthAdjust="spacing"  style="">+1 mmol/L CaCl<tspan font-size="11" dy="4">2</tspan></text></g>
<g transform="translate(382.5,1425) scale(1.100,1)"><text class="h" x="0" y="0" font-size="15.5" font-family='"Liberation Serif", serif' font-weight="normal" text-anchor="start" textLength="115.45" lengthAdjust="spacing"  style="">+1 mmol/L EGTA</text></g>
<g transform="translate(15.7,1216) rotate(-90) scale(1.100,1)"><text class="h" x="0" y="0" font-size="15.5" font-family='"Liberation Serif", serif' text-anchor="middle" textLength="157.73" lengthAdjust="spacing">percentage positive cells</text></g>
</svg>
</body></html>
